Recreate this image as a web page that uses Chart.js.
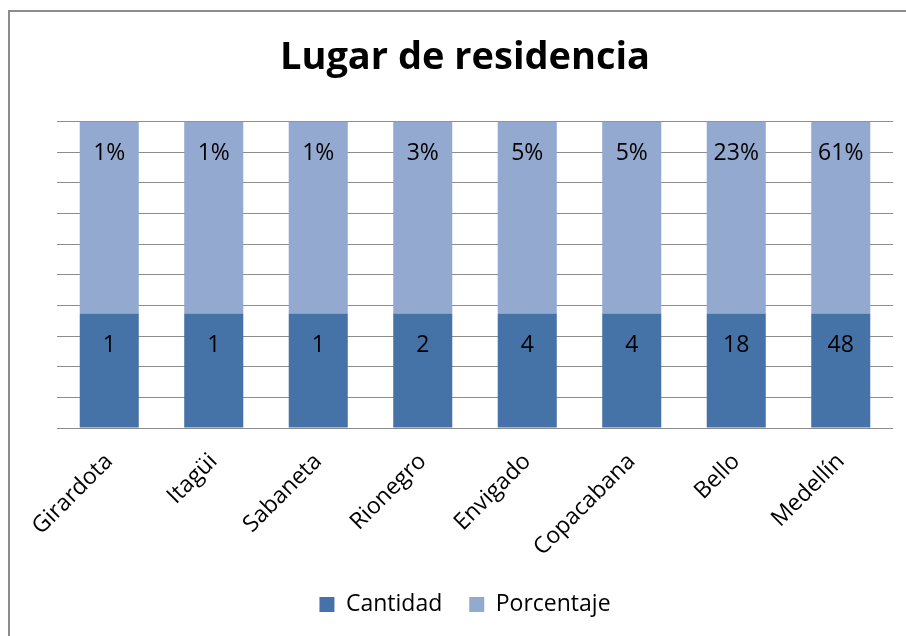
<!DOCTYPE html>
<html>
<head>
<meta charset="utf-8">
<script src="https://cdn.jsdelivr.net/npm/chart.js@4"></script>
<style>
  html, body { margin: 0; padding: 0; background: #fff; }
  #wrap { position: relative; width: 906px; height: 636px; overflow: hidden; }
  #frame { position: absolute; left: 8px; top: 10px; width: 920px; height: 660px;
           border-left: 2px solid #8c8c8c; border-top: 2px solid #8c8c8c; }
  canvas { position: absolute; left: 0; top: 0; }
</style>
</head>
<body>
<div id="wrap">
  <div id="frame"></div>
  <canvas id="chart" width="906" height="636"></canvas>
</div>
<script>
// categorias y etiquetas
const lugares = ["Girardota", "Itagüi", "Sabaneta", "Rionegro", "Envigado", "Copacabana", "Bello", "Medellín"];
const cantidad = [1, 1, 1, 2, 4, 4, 18, 48];
const porcentaje = [1, 1, 1, 3, 5, 5, 23, 61];
// alto de cada tramo (en % de la columna), medido en la imagen
const alturaCantidad = [37.4, 37.4, 37.4, 37.4, 37.4, 37.4, 37.4, 37.4];
const alturaPorcentaje = [62.6, 62.6, 62.6, 62.6, 62.6, 62.6, 62.6, 62.6];

const fuente = "'Open Sans', Lato, sans-serif";

// etiquetas dentro de cada tramo, cerca del extremo superior
const etiquetas = {
  id: "etiquetas",
  afterDatasetsDraw(chart) {
    const ctx = chart.ctx;
    ctx.save();
    ctx.font = "23px " + fuente;
    ctx.fillStyle = "#000";
    ctx.textAlign = "center";
    ctx.textBaseline = "middle";
    chart.data.datasets.forEach((ds, di) => {
      const meta = chart.getDatasetMeta(di);
      meta.data.forEach((bar, i) => {
        const txt = di === 0 ? String(cantidad[i]) : porcentaje[i] + "%";
        ctx.fillText(txt, bar.x, bar.y + 32);
      });
    });
    ctx.restore();
  }
};

new Chart(document.getElementById("chart"), {
  type: "bar",
  data: {
    labels: lugares,
    datasets: [
      { label: "Cantidad", data: alturaCantidad, backgroundColor: "#4572a7" },
      { label: "Porcentaje", data: alturaPorcentaje, backgroundColor: "#93a9cf" }
    ]
  },
  options: {
    responsive: false,
    animation: false,
    layout: { padding: { left: 37, right: 13, top: 0, bottom: 10 } },
    datasets: { bar: { barPercentage: 0.565, categoryPercentage: 1 } },
    plugins: {
      title: {
        display: true,
        text: "Lugar de residencia",
        color: "#000",
        font: { family: fuente, size: 38, weight: "bold" },
        padding: { top: 35, bottom: 41 }
      },
      legend: {
        position: "bottom",
        labels: {
          color: "#000",
          font: { family: fuente, size: 23 },
          boxWidth: 15,
          boxHeight: 15,
          padding: 27
        }
      },
      tooltip: { enabled: false }
    },
    scales: {
      x: {
        stacked: true,
        grid: { display: false },
        border: { display: false },
        ticks: {
          color: "#000",
          font: { family: fuente, size: 23 },
          minRotation: 45,
          maxRotation: 45,
          padding: 12
        },
        afterFit(scale) { scale.height = 138; }
      },
      y: {
        stacked: true,
        min: 0,
        max: 100,
        ticks: { display: false, stepSize: 10 },
        grid: { color: "#8c8c8c", lineWidth: 1, drawTicks: false },
        border: { display: false },
        afterFit(scale) { scale.width = 20; }
      }
    }
  },
  plugins: [etiquetas]
});
</script>
</body>
</html>
